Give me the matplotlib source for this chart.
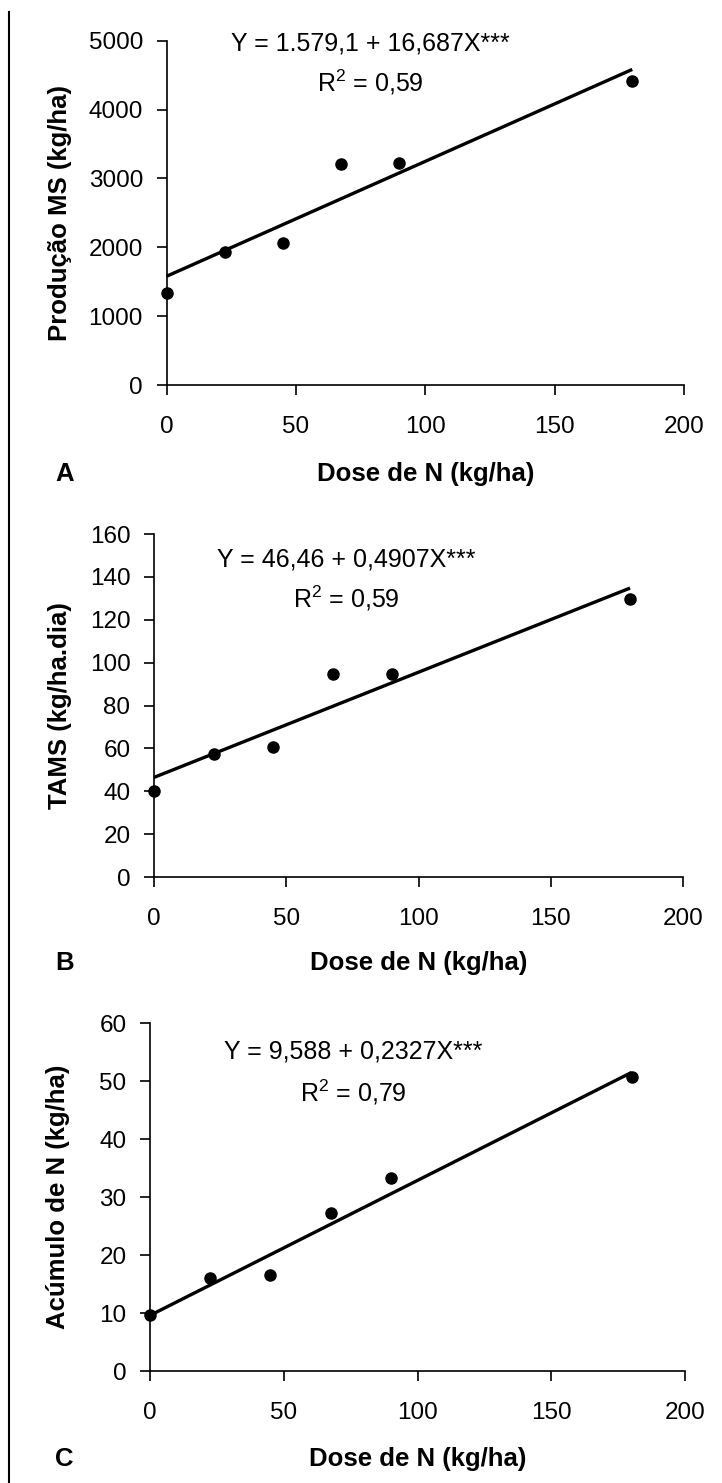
import matplotlib
matplotlib.use("Agg")
import matplotlib.pyplot as plt
from matplotlib.lines import Line2D

plt.rcParams['font.family'] = ['Liberation Sans', 'DejaVu Sans']
plt.rcParams['mathtext.fontset'] = 'custom'
plt.rcParams['mathtext.rm'] = 'Liberation Sans'
plt.rcParams['mathtext.default'] = 'regular'

# dose de N (kg/ha)
dose = [0, 22.5, 45, 67.5, 90, 180]

# panel values
prod_ms = [1340, 1936, 2067, 3209, 3219, 4415]
tams = [40.1, 57.6, 60.8, 94.5, 94.5, 129.5]
acum_n = [9.7, 16.0, 16.5, 27.3, 33.2, 50.7]

# regression coefficients (intercept, slope) as printed
coef_a = (1579.1, 16.687)
coef_b = (46.46, 0.4907)
coef_c = (9.588, 0.2327)

eq_a = ["Y = 1.579,1 + 16,687X***", "R$^2$ = 0,59"]
eq_b = ["Y = 46,46 + 0,4907X***", "R$^2$ = 0,59"]
eq_c = ["Y = 9,588 + 0,2327X***", "R$^2$ = 0,79"]

W, H = 722, 1483
fig = plt.figure(figsize=(W / 100, H / 100), dpi=100)


def px(x, y):
    return x / W, 1 - y / H


panels = [
    # letter, ylabel, y values, coef, eq, ymax, yticks, (left, right, top, bottom) px,
    # eq pos px, ylabel x px, xlabel y px
    ("A", "Produção MS (kg/ha)", prod_ms, coef_a, eq_a, 5000, range(0, 5001, 1000),
     (166.6, 684, 40.7, 385), (370, 43, 82), 60, 474),
    ("B", "TAMS (kg/ha.dia)", tams, coef_b, eq_b, 160, range(0, 161, 20),
     (154, 683, 534, 877), (346, 560, 598), 60, 963),
    ("C", "Acúmulo de N (kg/ha)", acum_n, coef_c, eq_c, 60, range(0, 61, 10),
     (150, 685, 1023, 1371), (353, 1052, 1092), 58, 1459),
]

for letter, ylab, yv, coef, eq, ymax, yt, box, eqpos, ylx, xly in panels:
    l, r, t, b = box
    ax = fig.add_axes([l / W, 1 - b / H, (r - l) / W, (b - t) / H])
    ax.set_xlim(0, 200)
    ax.set_ylim(0, ymax)
    ax.set_xticks(range(0, 201, 50))
    ax.set_yticks(list(yt))
    ax.spines['top'].set_visible(False)
    ax.spines['right'].set_visible(False)
    for s in ('left', 'bottom'):
        ax.spines[s].set_linewidth(1.2)
    ax.tick_params(axis='both', direction='out', length=7, width=1.2,
                   labelsize=17.5)
    ax.tick_params(axis='x', pad=15)
    ax.tick_params(axis='y', pad=10)
    for sp in ax.spines.values():
        sp.set_clip_on(False)

    ax.plot(dose, yv, 'o', color='black', markersize=8, clip_on=False, zorder=3)
    xs = [0, 180]
    ax.plot(xs, [coef[0] + coef[1] * x for x in xs], color='black', lw=2.4,
            solid_capstyle='butt', clip_on=False)

    ax.set_ylabel(ylab, fontsize=18.5, fontweight='bold')
    ax.yaxis.set_label_coords(*px(ylx, (t + b) / 2), transform=fig.transFigure)
    ax.yaxis.label.set_va('center')
    ax.set_xlabel("Dose de N (kg/ha)", fontsize=18.5, fontweight='bold')
    ax.xaxis.set_label_coords(*px((l + r) / 2, xly), transform=fig.transFigure)
    ax.xaxis.label.set_va('center')

    fig.text(*px(55, xly), letter, fontsize=18.5, fontweight='bold',
             ha='left', va='center')
    fig.text(*px(eqpos[0], eqpos[1]), eq[0], fontsize=18, ha='center', va='center')
    fig.text(*px(eqpos[0], eqpos[2]), eq[1], fontsize=18, ha='center', va='center')

# left border line
fig.add_artist(Line2D([9.3 / W, 9.3 / W], [1 - 12 / H, 0], color='black', lw=1.5))

fig.savefig("out.png", dpi=100)
